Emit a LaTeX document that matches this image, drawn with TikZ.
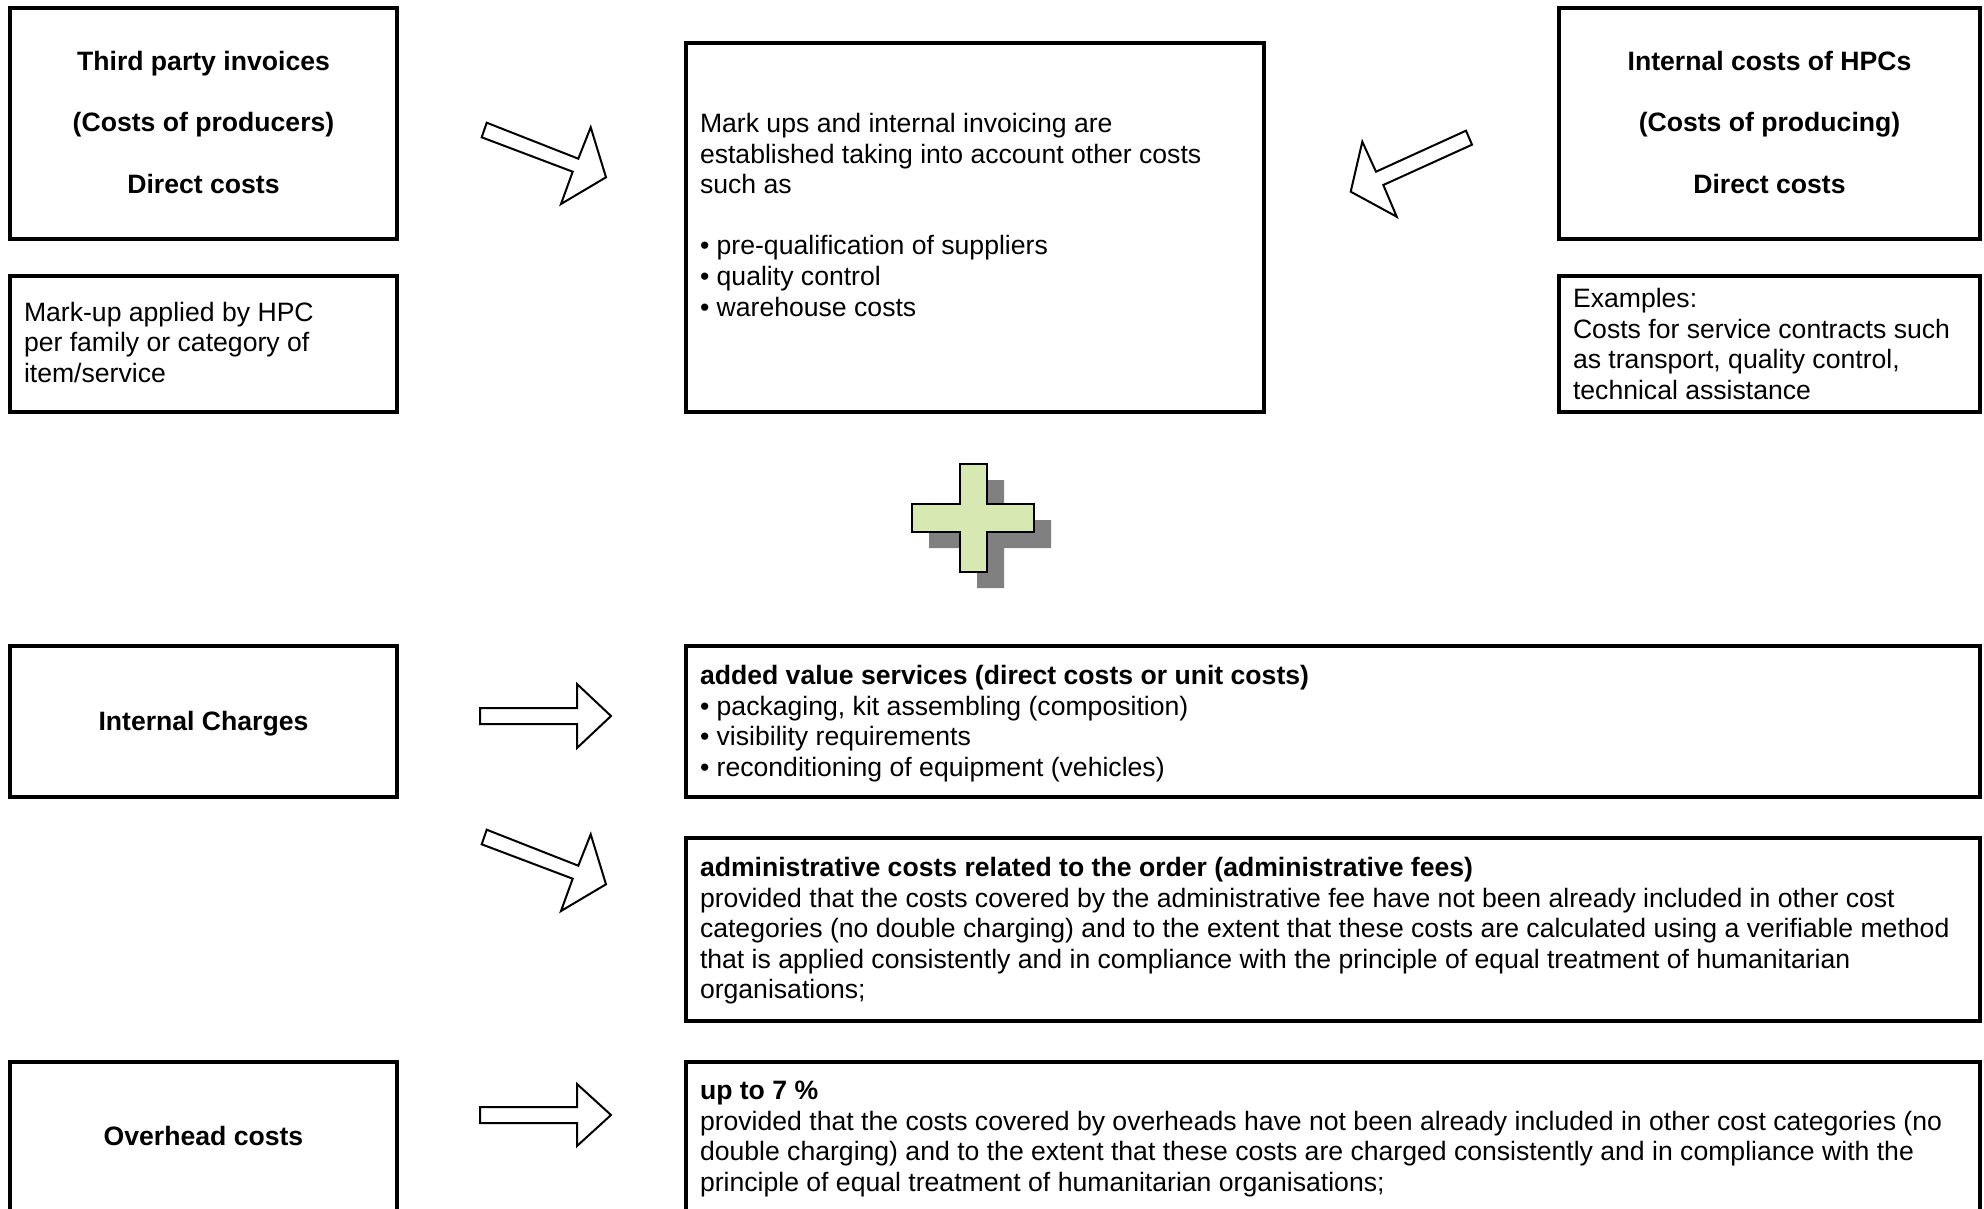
\documentclass[tikz,border=0pt]{standalone}
\usepackage{fontspec}
\setmainfont{Liberation Sans}
\newcommand\topstrut{\rule{0pt}{20pt}}
\begin{document}
\begin{tikzpicture}[x=1pt,y=-1pt,
  boxline/.style={draw=black,line width=4.8pt,line join=miter},
  blockarrow/.style={draw=black,fill=white,line width=2pt,line join=miter},
  txt/.style={inner sep=0pt,outer sep=0pt,align=left,anchor=north west,
    font=\fontsize{26.6pt}{30.6pt}\selectfont},
  head/.style={inner sep=0pt,outer sep=0pt,align=center,anchor=north,
    font=\fontsize{26.6pt}{30.6pt}\selectfont\bfseries},
  plusfill/.style={fill={rgb,255:red,216;green,232;blue,178},draw=black,line width=1.6pt},
  plusshadow/.style={fill={rgb,255:red,128;green,128;blue,128}}]
\useasboundingbox (0,0) rectangle (1984,1209);
\fill[white] (0,0) rectangle (1984,1209);
\clip (0,0) rectangle (1984,1209);

% boxes
\draw[boxline] (10,8) rectangle (397,239);
\draw[boxline] (10,276) rectangle (397,412);
\draw[boxline] (686,43) rectangle (1264,412);
\draw[boxline] (1559,8) rectangle (1980,239);
\draw[boxline] (1559,276) rectangle (1980,412);
\draw[boxline] (10,646) rectangle (397,797);
\draw[boxline] (686,646) rectangle (1980,797);
\draw[boxline] (686,838) rectangle (1980,1021);
\draw[boxline] (10,1062) rectangle (397,1220);
\draw[boxline] (686,1062) rectangle (1980,1220);

% texts
\node[head] (tpi) at (203.5,50.5) {\topstrut Third party invoices\\[30.7pt](Costs of producers)\\[30.7pt]Direct costs};
\node[txt] (markup) at (24,301) {\topstrut Mark-up applied by HPC\\per family or category of\\item/service};
\node[head] (ichpc) at (1769.5,50.5) {\topstrut Internal costs of HPCs\\[30.7pt](Costs of producing)\\[30.7pt]Direct costs};
\node[txt] (examples) at (1573,287.5) {\topstrut Examples:\\Costs for service contracts such\\as transport, quality control,\\technical assistance};
\node[txt] (center) at (700,112.5) {\topstrut Mark ups and internal invoicing are\\established taking into account other costs\\such as\\[30.5pt]\textbullet\ pre-qualification of suppliers\\\textbullet\ quality control\\\textbullet\ warehouse costs};
\node[head] (intch) at (203.5,710) {\topstrut Internal Charges};
\node[txt] (addval) at (700,664.5) {\topstrut\textbf{added value services (direct costs or unit costs)}\\\textbullet\ packaging, kit assembling (composition)\\\textbullet\ visibility requirements\\\textbullet\ reconditioning of equipment (vehicles)};
\node[txt] (admin) at (700,856.5) {\topstrut\textbf{administrative costs related to the order (administrative fees)}\\provided that the costs covered by the administrative fee have not been already included in other cost\\categories (no double charging) and to the extent that these costs are calculated using a verifiable method\\that is applied consistently and in compliance with the principle of equal treatment of humanitarian\\organisations;};
\node[head] (overhead) at (203.5,1125) {\topstrut Overhead costs};
\node[txt] (upto) at (700,1079.5) {\topstrut\textbf{up to 7 \%}\\provided that the costs covered by overheads have not been already included in other cost categories (no\\double charging) and to the extent that these costs are charged consistently and in compliance with the\\principle of equal treatment of humanitarian organisations;};

% block arrows
\draw[blockarrow] (486.7,122.7) -- (578.3,158.7) -- (590.7,127.3) -- (606,177.3) -- (561,204) -- (572.7,171.7) -- (481.7,137.3) -- cycle;
\draw[blockarrow] (1466,130.7) -- (1376,171.7) -- (1362.3,141.7) -- (1350.7,191.7) -- (1396.7,216.7) -- (1383.3,185) -- (1472,144.7) -- cycle;
\draw[blockarrow] (480,708) -- (577,708) -- (577,684) -- (611,716) -- (577,748) -- (577,724) -- (480,724) -- cycle;
\draw[blockarrow] (486.7,829.7) -- (578.3,865.7) -- (590.7,834.3) -- (606,884.3) -- (561,911) -- (572.7,878.7) -- (481.7,844.3) -- cycle;
\draw[blockarrow] (480,1107) -- (577,1107) -- (577,1084) -- (611,1115) -- (577,1146) -- (577,1123) -- (480,1123) -- cycle;

% plus sign with shadow
\fill[plusshadow] (977,480) -- (1004,480) -- (1004,520) -- (1051,520) -- (1051,548) -- (1004,548) -- (1004,588) -- (977,588) -- (977,548) -- (929,548) -- (929,520) -- (977,520) -- cycle;
\draw[plusfill] (960,464) -- (987,464) -- (987,504) -- (1034,504) -- (1034,532) -- (987,532) -- (987,572) -- (960,572) -- (960,532) -- (912,532) -- (912,504) -- (960,504) -- cycle;
\end{tikzpicture}
\end{document}
